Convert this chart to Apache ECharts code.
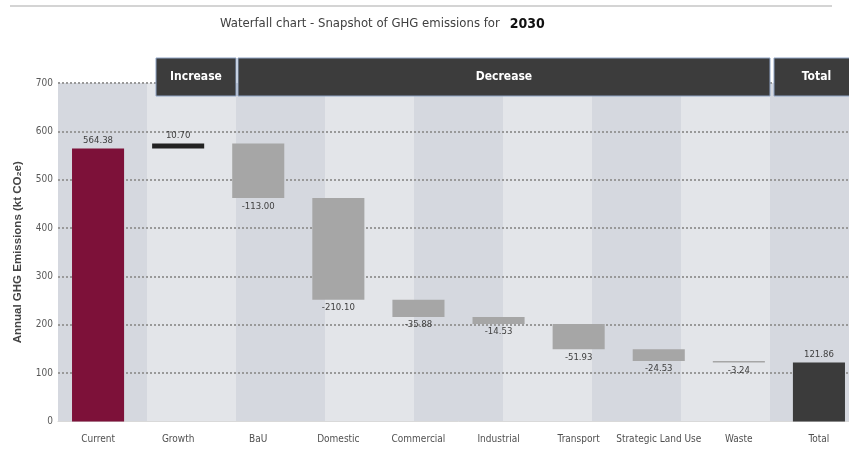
<!DOCTYPE html>
<html>
<head>
<meta charset="utf-8">
<script src="https://cdn.jsdelivr.net/npm/echarts@6/dist/echarts.min.js"></script>
<style>
  html, body { margin: 0; padding: 0; background: #fff; overflow: hidden; }
  /* plot runs a little past the right edge of the window, as in the screenshot */
  #chart { width: 859px; height: 461px; }
</style>
</head>
<body>
<div id="chart"></div>
<script>
// waterfall: GHG emissions snapshot for 2030
var categories = ['Current', 'Growth', 'BaU', 'Domestic', 'Commercial', 'Industrial',
  'Transport', 'Strategic Land Use', 'Waste', 'Total'];
var changes = [564.38, 10.70, -113.00, -210.10, -35.88, -14.53, -51.93, -24.53, -3.24, 121.86];
var kinds = ['start', 'increase', 'decrease', 'decrease', 'decrease', 'decrease',
  'decrease', 'decrease', 'decrease', 'total'];

// background bands and the group headers sitting on top of them
var bandNames = ['b0', 'b1', 'b2', 'b3', 'b4', 'b5', 'b6', 'b7', 'b8'];
var headerNames = ['Increase', 'Decrease', 'Total'];
var headerFrom = [1, 2, 8];
var headerTo = [1, 7, 8];

var yTicks = { min: 0, max: 700, step: 100 };

var NARROW = '"Liberation Sans Narrow", "DejaVu Sans Condensed", "Liberation Sans", sans-serif';
var kindColor = {
  start: '#7d1139',
  increase: '#222222',
  decrease: '#a6a6a6',
  total: '#3b3b3b'
};

// build the invisible base + visible step for each category
var baseData = [];
var stepData = [];
var running = 0;
changes.forEach(function (v, i) {
  var k = kinds[i];
  var base, size;
  if (k === 'start') { base = 0; size = v; running = v; }
  else if (k === 'increase') { base = running; size = v; running += v; }
  else if (k === 'decrease') { running += v; base = running; size = -v; }
  else { base = 0; size = v; }
  baseData.push(base);
  stepData.push({
    value: size,
    itemStyle: { color: kindColor[k] },
    label: {
      position: k === 'decrease' ? 'bottom' : 'top',
      distance: 3
    }
  });
});

var chart = echarts.init(document.getElementById('chart'), null, { renderer: 'canvas' });

var option = {
  backgroundColor: '#fff',
  animation: false,
  title: {
    text: '{a|Waterfall chart - Snapshot of GHG emissions for}  {b|2030}',
    left: 215,
    top: 10,
    textStyle: {
      fontWeight: 'normal',
      rich: {
        a: { fontFamily: NARROW, fontSize: 13, color: '#404040', fontWeight: 'normal' },
        b: { fontFamily: NARROW, fontSize: 14, color: '#111', fontWeight: 'bold' }
      }
    }
  },
  graphic: [{
    type: 'line',
    shape: { x1: 10, y1: 6, x2: 832, y2: 6 },
    style: { stroke: '#d4d4d4', lineWidth: 2 },
    silent: true
  }],
  grid: { left: 58, right: 0, top: 83, bottom: 39.5, containLabel: false },
  xAxis: [{
    type: 'category',
    data: categories,
    axisLine: { show: true, lineStyle: { color: '#d9d9d9', width: 1 } },
    axisTick: { show: false },
    axisLabel: { color: '#505050', fontFamily: NARROW, fontSize: 10, margin: 13, interval: 0 },
    splitLine: { show: false }
  }, {
    type: 'category',
    data: bandNames,
    position: 'bottom',
    z: 0,
    axisLine: { show: false },
    axisTick: { show: false },
    axisLabel: { show: false },
    splitArea: { show: true, areaStyle: { color: ['#d5d8df', '#e3e5e9'] } }
  }],
  yAxis: {
    type: 'value',
    z: 1,
    min: yTicks.min,
    max: yTicks.max,
    interval: yTicks.step,
    name: 'Annual GHG Emissions (kt CO\u2082e)',
    nameLocation: 'middle',
    nameGap: 34,
    nameTextStyle: { color: '#444', fontSize: 11.5, fontWeight: 'bold', fontFamily: 'Liberation Sans, sans-serif' },
    axisLine: { show: false },
    axisTick: { show: false },
    axisLabel: { color: '#595959', fontFamily: NARROW, fontSize: 10, margin: 5 },
    splitLine: { show: true, showMinLine: false, lineStyle: { color: '#999999', width: 2, type: [2, 2] } }
  },
  series: [{
    name: 'base',
    type: 'bar',
    stack: 'w',
    barWidth: '65%',
    silent: true,
    itemStyle: { color: 'transparent' },
    data: baseData
  }, {
    name: 'change',
    type: 'bar',
    stack: 'w',
    barWidth: '65%',
    data: stepData,
    label: {
      show: true,
      color: '#404040',
      fontFamily: NARROW,
      fontSize: 9.5,
      formatter: function (p) { return changes[p.dataIndex].toFixed(2); }
    }
  }, {
    name: 'headers',
    type: 'custom',
    xAxisIndex: 1,
    yAxisIndex: 0,
    silent: true,
    clip: false,
    z: 10,
    data: headerNames.map(function (h, i) { return [headerFrom[i], headerTo[i]]; }),
    renderItem: function (params, api) {
      var pad = [9, 2, 4];
      var bw = api.size([1, 0])[0];
      var a = api.coord([api.value(0), yTicks.max]);
      var b = api.coord([api.value(1), yTicks.max]);
      var x0 = a[0] - bw / 2 + pad[params.dataIndex];
      var x1 = b[0] + bw / 2;
      var top = a[1] - 25;
      return {
        type: 'group',
        children: [{
          type: 'rect',
          shape: { x: x0, y: top, width: x1 - x0, height: 38 },
          style: { fill: '#3c3c3c', stroke: '#8ea3c4', lineWidth: 1 }
        }, {
          type: 'text',
          style: {
            text: headerNames[params.dataIndex],
            x: (x0 + x1) / 2,
            y: top + 19,
            align: 'center',
            verticalAlign: 'middle',
            fill: '#fff',
            font: 'bold 12px ' + NARROW
          }
        }]
      };
    }
  }]
};

chart.setOption(option);
window.addEventListener('resize', function () { chart.resize(); });
</script>
</body>
</html>
